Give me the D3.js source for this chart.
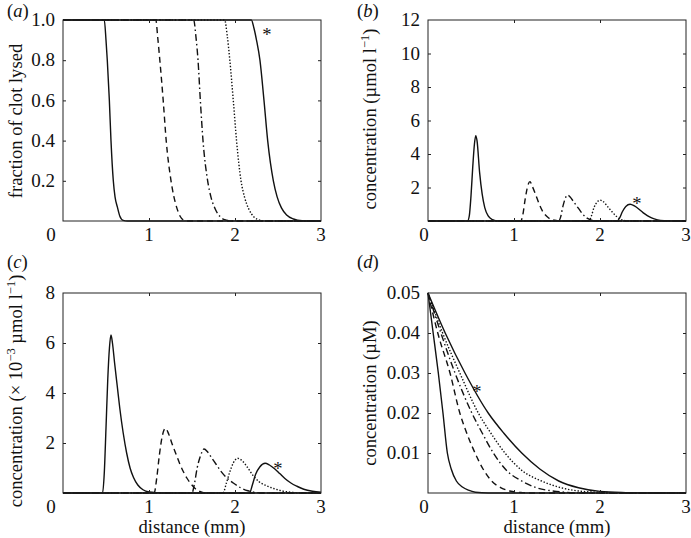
<!DOCTYPE html>
<html>
<head>
<meta charset="utf-8">
<script src="https://cdn.jsdelivr.net/npm/d3@7"></script>
<style>
  html, body { margin: 0; padding: 0; background: #fff; }
  svg { display: block; }
  text { font-family: "Liberation Serif", "Times New Roman", serif; fill: #111; }
</style>
</head>
<body>
<svg id="chart" width="691" height="538"></svg>
<script>
// ---------------- data ----------------
const xTicks = [1, 2];
const xDomain = [0, 3];

// (a) fraction of clot lysed vs distance (mm)
const lysedTicks = [0.2, 0.4, 0.6, 0.8, 1.0];
const lysed = [
  [[0,1],[0.48,1],[0.5,0.9],[0.515,0.8],[0.539,0.6],[0.558,0.4],[0.585,0.2],[0.605,0.12],[0.632,0.07],[0.66,0.025],[0.7,0.003],[0.75,0],[3,0]],
  [[0,1],[1.08,1],[1.1,0.92],[1.126,0.8],[1.165,0.6],[1.2,0.4],[1.256,0.2],[1.32,0.07],[1.36,0.025],[1.4,0.005],[1.45,0],[3,0]],
  [[0,1],[1.52,1],[1.545,0.92],[1.57,0.8],[1.597,0.6],[1.628,0.4],[1.682,0.2],[1.72,0.12],[1.77,0.06],[1.83,0.02],[1.9,0.004],[1.95,0],[3,0]],
  [[0,1],[1.88,1],[1.91,0.92],[1.94,0.8],[1.98,0.6],[2.018,0.4],[2.07,0.2],[2.11,0.12],[2.16,0.06],[2.22,0.02],[2.3,0.003],[2.35,0],[3,0]],
  [[0,1],[2.19,1],[2.22,0.96],[2.25,0.9],[2.29,0.8],[2.337,0.6],[2.38,0.4],[2.446,0.2],[2.49,0.12],[2.54,0.065],[2.6,0.03],[2.68,0.01],[2.78,0.001],[2.85,0],[3,0]]
];

// (b) concentration (umol/l)
const concBTicks = [2, 4, 6, 8, 10, 12];
const concB = [
  [[0,0],[0.46,0],[0.48,0.3],[0.5,1.5],[0.52,3.2],[0.54,4.6],[0.555,5.1],[0.57,4.8],[0.6,2.9],[0.63,1.6],[0.66,0.8],[0.7,0.3],[0.75,0.08],[0.8,0.01],[0.9,0],[3,0]],
  [[0,0],[1.08,0],[1.1,0.3],[1.13,1.3],[1.16,2.1],[1.186,2.35],[1.21,2.1],[1.25,1.6],[1.29,1.05],[1.33,0.6],[1.38,0.28],[1.43,0.1],[1.5,0.02],[1.55,0],[3,0]],
  [[0,0],[1.52,0],[1.54,0.2],[1.57,0.9],[1.6,1.4],[1.625,1.55],[1.65,1.45],[1.7,1.1],[1.75,0.75],[1.8,0.4],[1.85,0.17],[1.9,0.05],[1.95,0],[3,0]],
  [[0,0],[1.87,0],[1.9,0.3],[1.93,0.8],[1.97,1.15],[2.0,1.25],[2.04,1.15],[2.09,0.85],[2.14,0.55],[2.19,0.28],[2.24,0.1],[2.3,0.02],[2.35,0],[3,0]],
  [[0,0],[2.2,0],[2.23,0.2],[2.26,0.55],[2.3,0.87],[2.35,1.0],[2.4,0.9],[2.45,0.72],[2.5,0.5],[2.55,0.32],[2.6,0.18],[2.67,0.07],[2.75,0.02],[2.85,0],[3,0]]
];

// (c) concentration (x1e-3 umol/l)
const concCTicks = [2, 4, 6, 8];
const concC = [
  [[0,0],[0.46,0],[0.48,0.8],[0.5,2.6],[0.52,4.5],[0.54,5.8],[0.558,6.32],[0.575,6.0],[0.6,5.2],[0.63,4.3],[0.66,3.4],[0.7,2.4],[0.74,1.6],[0.78,1.0],[0.82,0.62],[0.87,0.32],[0.93,0.13],[1.0,0.04],[1.1,0.01],[1.2,0],[3,0]],
  [[0,0],[1.06,0],[1.09,0.6],[1.12,1.5],[1.15,2.2],[1.19,2.59],[1.23,2.35],[1.27,1.95],[1.32,1.5],[1.36,1.15],[1.4,0.85],[1.44,0.6],[1.48,0.4],[1.53,0.2],[1.59,0.06],[1.65,0],[3,0]],
  [[0,0],[1.5,0],[1.53,0.4],[1.56,1.0],[1.6,1.5],[1.64,1.76],[1.68,1.65],[1.73,1.4],[1.78,1.15],[1.83,0.9],[1.9,0.62],[1.98,0.4],[2.06,0.22],[2.15,0.09],[2.25,0.02],[2.35,0],[3,0]],
  [[0,0],[1.86,0],[1.9,0.4],[1.94,0.85],[1.98,1.2],[2.03,1.39],[2.08,1.3],[2.14,1.05],[2.21,0.7],[2.28,0.45],[2.36,0.3],[2.45,0.18],[2.55,0.08],[2.65,0.03],[2.8,0],[3,0]],
  [[0,0],[2.17,0],[2.2,0.3],[2.24,0.75],[2.29,1.05],[2.35,1.19],[2.4,1.12],[2.46,0.97],[2.52,0.78],[2.58,0.58],[2.65,0.4],[2.72,0.27],[2.8,0.15],[2.9,0.07],[3,0.03]]
];

// (d) concentration (uM)
const concDTicks = [0.01, 0.02, 0.03, 0.04, 0.05];
const concD = [
  [[0,0.05],[0.06,0.04],[0.12,0.03],[0.174,0.02],[0.225,0.01],[0.27,0.006],[0.33,0.003],[0.4,0.0015],[0.47,0.0007],[0.55,0.0002],[0.7,0],[3,0]],
  [[0,0.05],[0.12,0.0395],[0.256,0.03],[0.37,0.02],[0.45,0.015],[0.547,0.01],[0.64,0.006],[0.74,0.003],[0.85,0.0013],[0.95,0.0005],[1.1,0.0001],[1.2,0],[3,0]],
  [[0,0.05],[0.15,0.04],[0.314,0.03],[0.51,0.02],[0.63,0.015],[0.76,0.01],[0.92,0.0055],[1.09,0.003],[1.25,0.0014],[1.45,0.0005],[1.7,0.0001],[2,0],[3,0]],
  [[0,0.05],[0.17,0.04],[0.37,0.03],[0.585,0.02],[0.73,0.015],[0.895,0.01],[1.1,0.0055],[1.32,0.003],[1.55,0.0013],[1.8,0.0004],[2.1,0.0001],[2.4,0],[3,0]],
  [[0,0.05],[0.2,0.04],[0.43,0.03],[0.7,0.02],[0.88,0.015],[1.09,0.01],[1.3,0.006],[1.52,0.003],[1.75,0.0013],[2.0,0.0004],[2.3,0.0001],[2.6,0],[3,0]]
];

const lineStyles = ["solid", "dashed", "dashdot", "dotted", "solid"];

// ---------------- drawing ----------------
const dashMap = { solid: null, dashed: "6,4", dashdot: "7,3,1.5,3", dotted: "1.4,1.8" };
const svg = d3.select("#chart");
const FS = 19;     // tick labels
const LFS = 18.6;  // axis labels

const panels = [
  { id: "a", box: [63, 321, 20, 221], yDomain: [0, 1], yTicks: lysedTicks, fmt: d3.format(".1f"), data: lysed,
    zeroDx: -12, yLabel: [{t: "fraction of clot lysed"}], yLabelPos: [22, 121], starPos: [267, 33], xLabel: false },
  { id: "b", box: [428, 686, 20, 221], yDomain: [0, 12], yTicks: concBTicks, fmt: d3.format("d"), data: concB,
    zeroDx: -4, yLabel: [{t: "concentration (µmol l"}, {t: "−1", sup: true}, {t: ")"}], yLabelPos: [376, 119], starPos: [637, 202], xLabel: false },
  { id: "c", box: [63, 321, 293, 493], yDomain: [0, 8], yTicks: concCTicks, fmt: d3.format("d"), data: concC,
    zeroDx: -12, yLabel: [{t: "concentration (× 10"}, {t: "−3", sup: true}, {t: " µmol l"}, {t: "−1", sup: true}, {t: ")"}], yLabelPos: [22, 391], starPos: [278, 467], xLabel: true },
  { id: "d", box: [428, 686, 293, 493], yDomain: [0, 0.05], yTicks: concDTicks, fmt: d3.format(".2f"), data: concD,
    zeroDx: -4, yLabel: [{t: "concentration (µM)"}], yLabelPos: [376, 393], starPos: [477, 390], xLabel: true }
];

const panelLabelPos = { a: [7, 17], b: [357, 17], c: [7, 268], d: [357, 268] };

panels.forEach(p => {
  const [L, R, T, B] = p.box;
  const x = d3.scaleLinear().domain(xDomain).range([L, R]);
  const y = d3.scaleLinear().domain(p.yDomain).range([B, T]);
  const g = svg.append("g");

  // curves
  const line = d3.line().x(d => x(d[0])).y(d => y(d[1])).curve(d3.curveMonotoneX);
  p.data.forEach((series, i) => {
    g.append("path")
      .attr("d", line(series))
      .attr("fill", "none")
      .attr("stroke", "#111")
      .attr("stroke-width", 1.4)
      .attr("stroke-dasharray", dashMap[lineStyles[i]])
      .attr("stroke-linejoin", "round");
  });

  // box
  g.append("rect").attr("x", L).attr("y", T).attr("width", R - L).attr("height", B - T)
    .attr("fill", "none").attr("stroke", "#222").attr("stroke-width", 1);

  // inward ticks on all sides via d3 axes
  const tickLen = 3;
  g.append("g").attr("transform", `translate(0,${B})`)
    .call(d3.axisTop(x).tickValues(xTicks).tickSize(tickLen).tickFormat(""))
    .call(a => a.select(".domain").remove());
  g.append("g").attr("transform", `translate(0,${T})`)
    .call(d3.axisBottom(x).tickValues(xTicks).tickSize(tickLen).tickFormat(""))
    .call(a => a.select(".domain").remove());
  g.append("g").attr("transform", `translate(${L},0)`)
    .call(d3.axisRight(y).tickValues(p.yTicks.filter(v => v !== p.yDomain[1])).tickSize(tickLen).tickFormat(""))
    .call(a => a.select(".domain").remove());
  g.append("g").attr("transform", `translate(${R},0)`)
    .call(d3.axisLeft(y).tickValues(p.yTicks.filter(v => v !== p.yDomain[1])).tickSize(tickLen).tickFormat(""))
    .call(a => a.select(".domain").remove());
  g.selectAll(".tick line").attr("stroke", "#222");

  // x tick labels (1,2,3) and corner 0
  [...xTicks, 3].forEach(v => {
    g.append("text").attr("x", x(v)).attr("y", B + 20).attr("text-anchor", "middle")
      .attr("font-size", FS).text(v);
  });
  g.append("text").attr("x", L + p.zeroDx).attr("y", B + 20).attr("text-anchor", "middle")
    .attr("font-size", FS).text("0");

  // y tick labels
  p.yTicks.forEach(v => {
    g.append("text").attr("x", L - 8).attr("y", y(v)).attr("dy", "0.33em")
      .attr("text-anchor", "end").attr("font-size", FS).text(p.fmt(v));
  });

  // y label
  const yl = g.append("text")
    .attr("transform", `translate(${p.yLabelPos[0]},${p.yLabelPos[1]}) rotate(-90)`)
    .attr("text-anchor", "middle").attr("font-size", LFS);
  let raised = false;
  p.yLabel.forEach(part => {
    const ts = yl.append("tspan").text(part.t);
    if (part.sup) { ts.attr("font-size", 12.5).attr("dy", -7); raised = true; }
    else if (raised) { ts.attr("dy", 7); raised = false; }
  });

  // x label
  if (p.xLabel) {
    g.append("text").attr("x", (L + R) / 2).attr("y", 533).attr("text-anchor", "middle")
      .attr("font-size", LFS).text("distance (mm)");
  }

  // asterisk
  g.append("text").attr("x", p.starPos[0]).attr("y", p.starPos[1] + 8).attr("text-anchor", "middle")
    .attr("font-size", LFS).text("*");

  // panel label
  const pl = panelLabelPos[p.id];
  const lab = g.append("text").attr("x", pl[0]).attr("y", pl[1]).attr("font-size", LFS);
  lab.append("tspan").text("(");
  lab.append("tspan").attr("font-style", "italic").text(p.id);
  lab.append("tspan").text(")");
});
</script>
</body>
</html>
